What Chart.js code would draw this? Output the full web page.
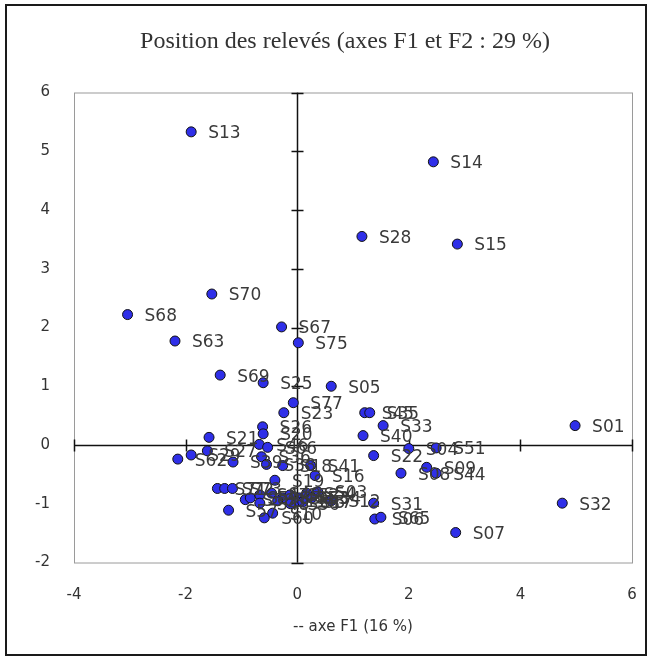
<!DOCTYPE html>
<html>
<head>
<meta charset="utf-8">
<script src="https://cdn.jsdelivr.net/npm/chart.js@4.4.0/dist/chart.umd.min.js"></script>
<style>
  html, body { margin: 0; padding: 0; background: #fff; }
</style>
</head>
<body>
<canvas id="c" width="653" height="659"></canvas>
<script>
// relevés, coordonnées sur F1 et F2
const names = ["S13","S14","S28","S15","S70","S68","S63","S67","S75","S69",
  "S25","S05","S77","S23","S45","S35","S33","S40","S01","S22",
  "S04","S51","S09","S08","S44","S32","S31","S06","S65","S07",
  "S12","S03","S21","S62","S29","S27","S39","S71","S72","S73",
  "S57","S58","S59","S26","S20","S46","S66","S36","S38","S18",
  "S41","S16","S19","S47","S48","S49","S50","S52","S53","S54",
  "S10","S60","S55","S56","S34","S11","S17"];
const f1 = [-1.90, 2.44, 1.16, 2.87, -1.53, -3.04, -2.19, -0.28, 0.02, -1.38,
  -0.61, 0.61, -0.07, -0.24, 1.21, 1.30, 1.54, 1.18, 4.98, 1.37,
  2.00, 2.49, 2.32, 1.86, 2.49, 4.75, 1.37, 1.39, 1.50, 2.84,
  0.61, 0.37, -1.58, -2.14, -1.90, -1.61, -1.15, -1.43, -1.30, -1.16,
  -1.23, -0.93, -0.84, -0.62, -0.61, -0.68, -0.53, -0.64, -0.55, -0.26,
  0.24, 0.32, -0.40, -0.67, -0.67, -0.46, -0.26, -0.13, 0.04, 0.17,
  -0.44, -0.59, -0.02, -0.12, 0.26, -0.35, 0.10];
const f2 = [5.33, 4.82, 3.55, 3.42, 2.57, 2.22, 1.77, 2.01, 1.74, 1.19,
  1.06, 1.00, 0.72, 0.55, 0.55, 0.55, 0.33, 0.16, 0.33, -0.18,
  -0.06, -0.05, -0.38, -0.48, -0.48, -0.99, -0.99, -1.26, -1.23, -1.49,
  -0.95, -0.80, 0.13, -0.24, -0.17, -0.10, -0.29, -0.74, -0.74, -0.74,
  -1.11, -0.93, -0.90, 0.31, 0.19, 0.01, -0.04, -0.20, -0.33, -0.35,
  -0.35, -0.52, -0.60, -0.85, -0.99, -0.82, -0.90, -0.85, -0.90, -0.82,
  -1.16, -1.24, -0.96, -1.00, -0.90, -0.95, -0.97];

const xTicks = [-4, -2, 0, 2, 4, 6];
const yTicks = [-2, -1, 0, 1, 2, 3, 4, 5, 6];
const titre = "Position des relevés (axes F1 et F2 : 29 %)";

const points = f1.map((x, i) => ({ x: x, y: f2[i], name: names[i] }));

// cadre, titre, axes passant par 0 et étiquettes des points
const decor = {
  id: "decor",
  beforeDraw(chart) {
    const { ctx, chartArea: a } = chart;
    ctx.save();
    ctx.strokeStyle = "#1a1a1a";
    ctx.lineWidth = 2;
    ctx.strokeRect(6, 5, 640, 650);
    // titre centré sur la zone de tracé (comme dans Excel)
    ctx.font = '24px "Liberation Serif"';
    ctx.fillStyle = "#333";
    ctx.textAlign = "center";
    ctx.textBaseline = "middle";
    ctx.fillText(titre, (a.left + a.right) / 2 - 8, 42);
    ctx.restore();
  },
  beforeDatasetsDraw(chart) {
    const { ctx, chartArea: a, scales: { x, y } } = chart;
    ctx.save();
    ctx.strokeStyle = "#9a9a9a";
    ctx.lineWidth = 1;
    ctx.strokeRect(a.left + 0.5, a.top + 0.5, a.right - a.left, a.bottom - a.top);

    const x0 = Math.round(x.getPixelForValue(0)) + 0.5;
    const y0 = Math.round(y.getPixelForValue(0)) + 0.5;
    ctx.strokeStyle = "#111";
    ctx.lineWidth = 1.5;
    ctx.beginPath();
    ctx.moveTo(x0, a.top); ctx.lineTo(x0, a.bottom);
    ctx.moveTo(a.left, y0); ctx.lineTo(a.right, y0);
    yTicks.forEach(v => {
      const py = Math.round(y.getPixelForValue(v)) + 0.5;
      ctx.moveTo(x0 - 6, py); ctx.lineTo(x0 + 6, py);
    });
    xTicks.forEach(v => {
      const px = Math.round(x.getPixelForValue(v)) + 0.5;
      ctx.moveTo(px, y0 - 6); ctx.lineTo(px, y0 + 6);
    });
    ctx.stroke();
    ctx.restore();
  },
  afterDatasetsDraw(chart) {
    const { ctx, scales: { x, y } } = chart;
    ctx.save();
    ctx.font = '17px "DejaVu Sans"';
    ctx.fillStyle = "#3a3a3a";
    ctx.textAlign = "left";
    ctx.textBaseline = "middle";
    points.forEach(p => {
      ctx.fillText(p.name, x.getPixelForValue(p.x) + 17, y.getPixelForValue(p.y) + 2);
    });
    ctx.restore();
  }
};

new Chart(document.getElementById("c"), {
  type: "scatter",
  data: {
    datasets: [{
      data: points,
      pointRadius: 5,
      pointHoverRadius: 5,
      backgroundColor: "#2f2fe8",
      borderColor: "#111",
      borderWidth: 1
    }]
  },
  options: {
    responsive: false,
    animation: false,
    layout: { padding: { left: 0, right: 21, top: 92.5, bottom: 0 } },
    plugins: {
      legend: { display: false },
      tooltip: { enabled: false },
      title: { display: false }
    },
    scales: {
      x: {
        type: "linear",
        min: -4, max: 6,
        grid: { display: false },
        border: { display: false },
        afterBuildTicks: s => { s.ticks = xTicks.map(v => ({ value: v })); },
        afterFit: s => { s.height = 96.5; },
        ticks: { color: "#333", padding: 16, font: { family: '"DejaVu Sans"', size: 15 } },
        title: {
          display: true,
          text: "-- axe F1 (16 %)",
          color: "#333",
          font: { family: '"DejaVu Sans"', size: 15 },
          padding: { top: 0, bottom: 23 }
        }
      },
      y: {
        type: "linear",
        min: -2, max: 6,
        grid: { display: false },
        border: { display: false },
        afterBuildTicks: s => { s.ticks = yTicks.map(v => ({ value: v })); },
        afterFit: s => { s.width = 74; },
        ticks: { color: "#333", padding: 16, font: { family: '"DejaVu Sans"', size: 15 } }
      }
    }
  },
  plugins: [decor]
});
</script>
</body>
</html>
